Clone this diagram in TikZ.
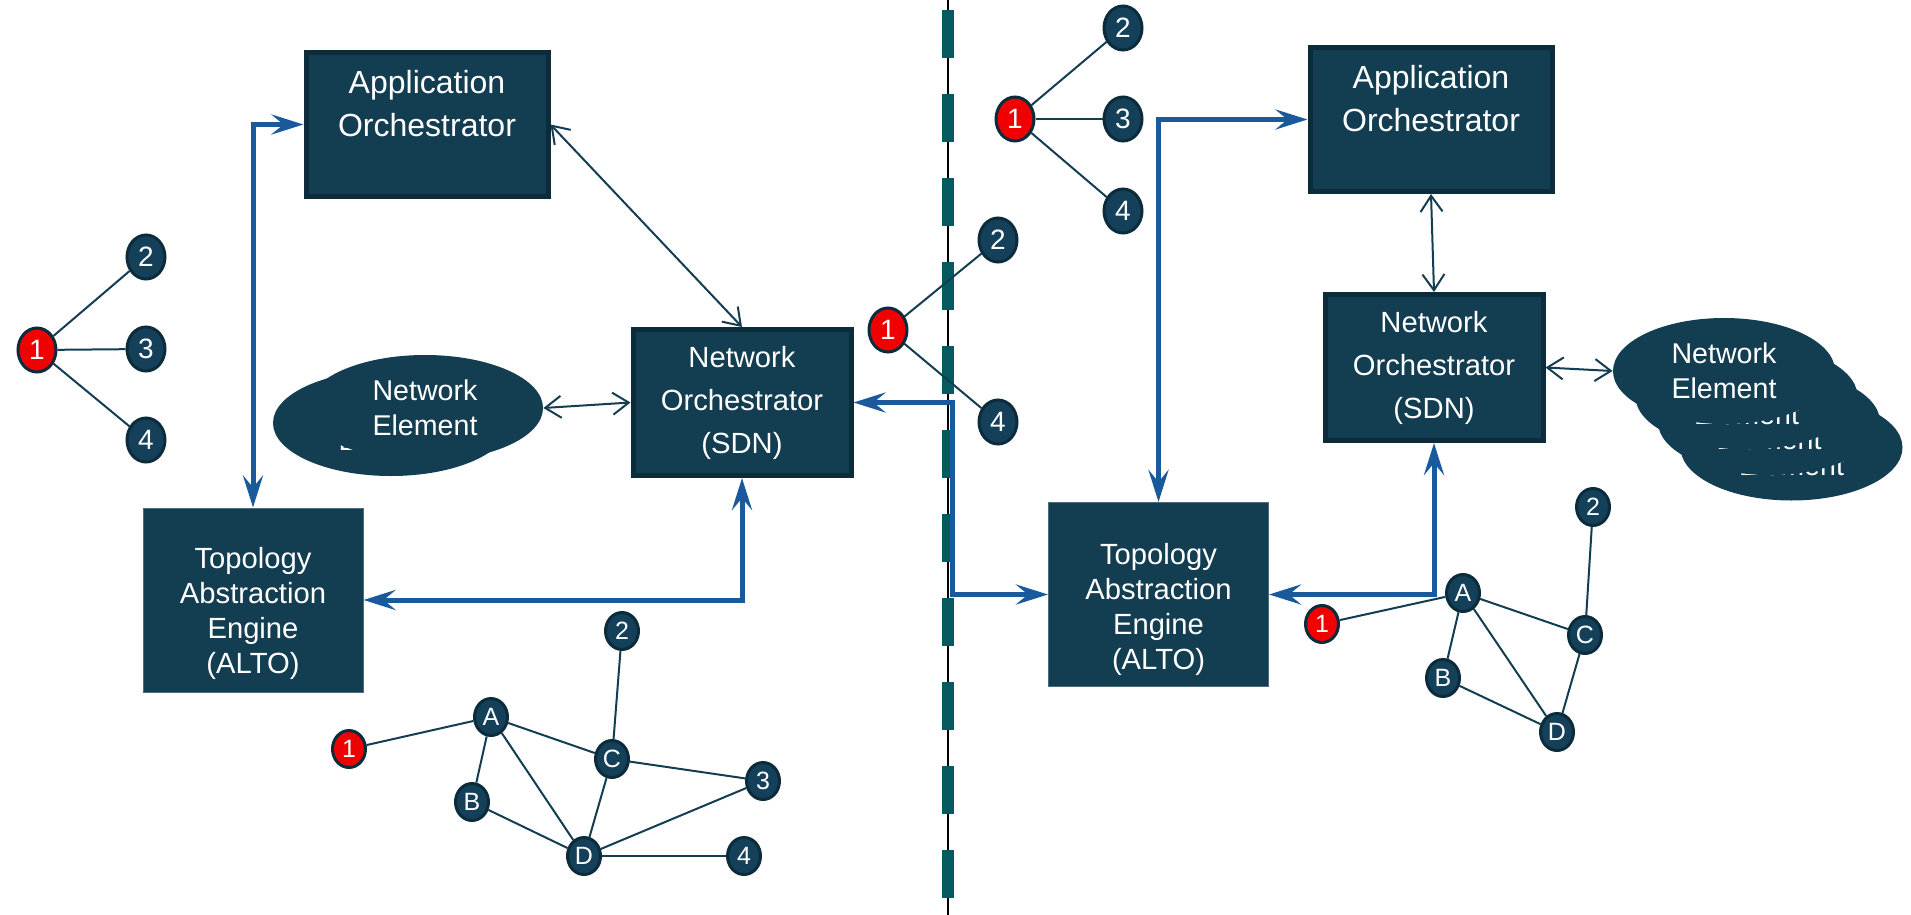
\documentclass[tikz,border=0pt]{standalone}
\usepackage{fontspec}
\setmainfont{Liberation Sans}
\usetikzlibrary{arrows.meta,shapes.geometric}

\definecolor{boxfill}{HTML}{133D50}
\definecolor{boxline}{HTML}{0C2B3B}
\definecolor{nodefill}{HTML}{15405A}
\definecolor{linkblue}{HTML}{1A5A9C}
\definecolor{dashteal}{HTML}{055A60}
\definecolor{hostred}{HTML}{F00000}

\tikzset{
  orch/.style = {draw=boxline, line width=2.5pt, fill=boxfill, text=white, align=center},
  appbox/.style = {orch, minimum width=121pt, minimum height=72pt, font=\fontsize{16}{21.5}\selectfont},
  netbox/.style = {orch, minimum width=109pt, minimum height=73pt, font=\fontsize{14.6}{21.5}\selectfont},
  topo/.style = {draw=boxfill!75!white, line width=0.5pt, fill=boxfill, minimum width=110pt, minimum height=92pt},
  boxtext/.style = {text=white, align=center, font=\fontsize{14.6}{17.5}\selectfont},
  elem/.style = {ellipse, fill=boxfill, text=white, align=center, inner sep=0pt, font=\fontsize{14.3}{17.5}\selectfont},
  num/.style = {ellipse, draw=boxline, line width=1.5pt, fill=nodefill, text=white, inner sep=0pt,
                minimum width=19pt, minimum height=22pt, font=\fontsize{14}{14}\selectfont},
  gnum/.style = {num, minimum width=16.5pt, minimum height=18.5pt, font=\fontsize{12.5}{12.5}\selectfont},
  host/.style = {fill=hostred},
  edgeline/.style = {draw=boxfill, line width=1pt},
  ctrl/.style = {draw=boxfill, line width=1pt, arrows={Straight Barb[length=8pt,width=11pt]-Straight Barb[length=8pt,width=11pt]}},
  flow/.style = {draw=linkblue, line width=2.5pt, arrows={Stealth[length=16pt,width=10pt,inset=6pt]-Stealth[length=16pt,width=10pt,inset=6pt]}}
}

\begin{document}
\begin{tikzpicture}[x=0.5pt, y=-0.5pt]
  \useasboundingbox (0,0) rectangle (1911,915);

  % divider
  \draw[black, line width=0.6pt] (948,0) -- (948,915);
  \draw[dashteal, line width=6pt, dash pattern=on 24pt off 18pt] (948,10) -- (948,915);

  % left side
  \node[appbox] (appL) at (427,124.5) {Application\\Orchestrator\\~};
  \node[netbox] (netL) at (742,402.5) {Network\\Orchestrator\\(SDN)};
  \node[topo] (topoL) at (253,600) {};
  \node[boxtext] at ([yshift=-6.5pt]topoL.center) {Topology\\Abstraction\\Engine\\(ALTO)};

  \node[elem, minimum width=118pt, minimum height=53pt] (neL2) at (391,423) {Network\\Element};
  \node[elem, minimum width=118pt, minimum height=53pt] (neL1) at (425,408) {Network\\Element};

  % right side
  \node[appbox] (appR) at (1431,119.5) {Application\\Orchestrator\\~};
  \node[netbox] (netR) at (1434,367.5) {Network\\Orchestrator\\(SDN)};
  \node[topo] (topoR) at (1158.5,594.5) {};
  \node[boxtext] at ([yshift=-7.5pt]topoR.center) {Topology\\Abstraction\\Engine\\(ALTO)};

  \foreach \k in {3,2,1,0}
    \node[elem, minimum width=111pt, minimum height=53pt] (neR\k) at ({1724+22.5*\k},{371+25.5*\k}) {Network\\Element};

  % stars
  \node[num, host] (l1) at (37,350) {1};
  \node[num] (l2) at (146,257) {2};
  \node[num] (l3) at (146,349) {3};
  \node[num] (l4) at (146,440) {4};
  \foreach \n in {2,3,4} \draw[edgeline] (l1) -- (l\n);

  \node[num, host] (m1) at (888,330) {1};
  \node[num] (m2) at (998,240) {2};
  \node[num] (m4) at (998,422) {4};
  \foreach \n in {2,4} \draw[edgeline] (m1) -- (m\n);

  \node[num, host] (r1) at (1015,119) {1};
  \node[num] (r2) at (1123,28) {2};
  \node[num] (r3) at (1123,119) {3};
  \node[num] (r4) at (1123,211) {4};
  \foreach \n in {2,3,4} \draw[edgeline] (r1) -- (r\n);

  % abstracted graphs
  \node[gnum, host] (g1) at (349,749) {1};
  \node[gnum] (gA) at (491,717) {A};
  \node[gnum] (gB) at (472,802) {B};
  \node[gnum] (gC) at (612,759) {C};
  \node[gnum] (gD) at (584,856) {D};
  \node[gnum] (g2) at (622,631) {2};
  \node[gnum] (g3) at (763,781) {3};
  \node[gnum] (g4) at (744,856) {4};
  \foreach \a/\b in {g1/gA, gA/gB, gA/gC, gA/gD, gB/gD, gC/gD, gC/g2, gC/g3, gD/g3, gD/g4}
    \draw[edgeline] (\a) -- (\b);

  \node[gnum, host] (h1) at (1322,624) {1};
  \node[gnum] (hA) at (1463,593) {A};
  \node[gnum] (hB) at (1443,678) {B};
  \node[gnum] (hC) at (1585,635) {C};
  \node[gnum] (hD) at (1557,732) {D};
  \node[gnum] (h2) at (1593,507) {2};
  \foreach \a/\b in {h1/hA, hA/hB, hA/hC, hA/hD, hB/hD, hC/hD, hC/h2}
    \draw[edgeline] (\a) -- (\b);

  % control links
  \draw[ctrl] (appL.east) -- (netL.north);
  \draw[ctrl] (neL1.east) -- (netL.west);
  \draw[ctrl] (appR.south) -- (netR.north);
  \draw[ctrl] (netR.east) -- (neR0.west);

  % data flows
  \coordinate (cross) at (952,500);
  \draw[flow] (appL.west) -| (topoL.north);
  \draw[flow] (netL.south) |- (topoL.east);
  \draw[flow] (netL.east) -| (cross) |- (topoR.west);
  \draw[flow] (appR.west) -| (topoR.north);
  \draw[flow] (netR.south) |- (topoR.east);
\end{tikzpicture}
\end{document}
